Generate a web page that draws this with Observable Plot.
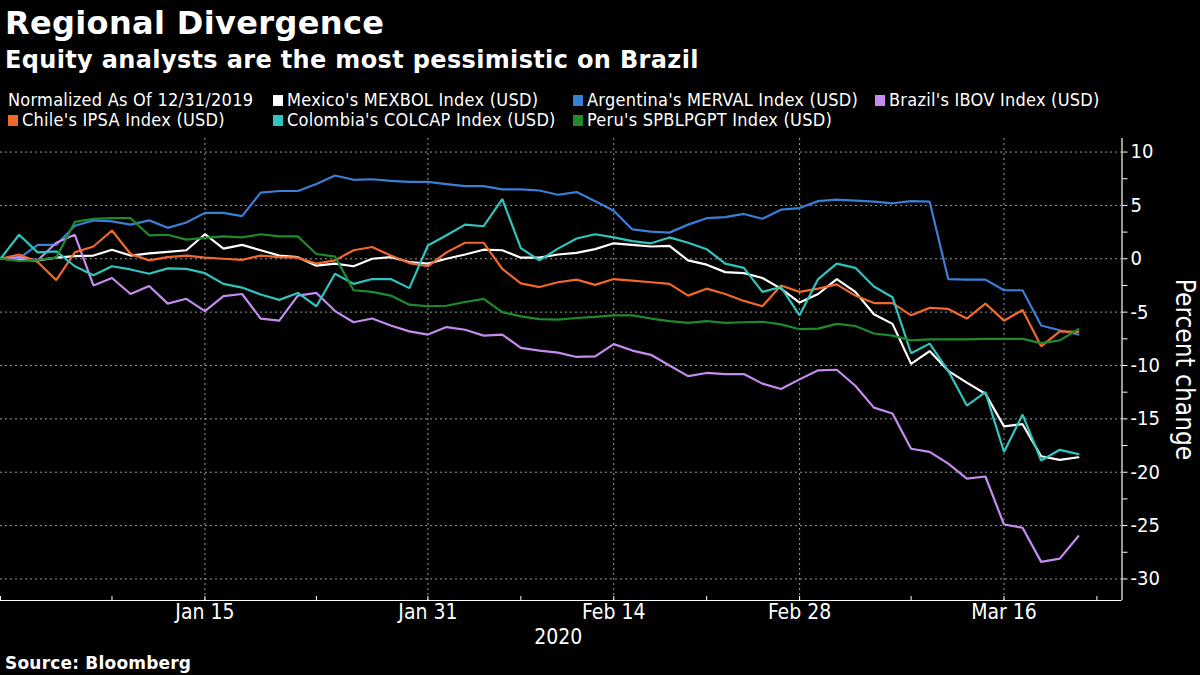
<!DOCTYPE html>
<html>
<head>
<meta charset="utf-8">
<script src="https://cdn.jsdelivr.net/npm/d3@7"></script>
<script src="https://cdn.jsdelivr.net/npm/@observablehq/plot@0.6"></script>
<style>
  html, body { margin: 0; padding: 0; background: #000; }
  #wrap { position: relative; width: 1200px; height: 675px; background: #000; overflow: hidden; color: #fff;
          font-family: "DejaVu Sans Condensed", "DejaVu Sans", sans-serif; font-stretch: condensed; }
  .title { position: absolute; left: 5px; top: 6.5px; font-family: "DejaVu Sans", sans-serif; font-stretch: normal;
           font-weight: bold; font-size: 32px; line-height: 32px; letter-spacing: 0.35px; white-space: nowrap; }
  .subtitle { position: absolute; left: 5px; top: 48px; font-family: "DejaVu Sans", sans-serif; font-stretch: normal;
           font-weight: bold; font-size: 24px; line-height: 24px; letter-spacing: 0.35px; white-space: nowrap; }
  .legend { position: absolute; left: 8px; top: 91px; display: grid;
            grid-template-columns: 265px 300px 302px auto; row-gap: 2px; font-size: 18px; line-height: 18px;
            letter-spacing: 0.25px; }
  .legend .item { white-space: nowrap; display: flex; align-items: center; }
  .legend .sw { display: inline-block; width: 10px; height: 11px; margin-right: 4px; }
  .source { position: absolute; left: 5px; top: 655px; font-family: "DejaVu Sans", sans-serif; font-stretch: normal;
            font-weight: bold; font-size: 17px; line-height: 17px; letter-spacing: 0.2px; }
  #chart { position: absolute; left: 0; top: 130px; }
</style>
</head>
<body>
<div id="wrap">
  <div class="title">Regional Divergence</div>
  <div class="subtitle">Equity analysts are the most pessimistic on Brazil</div>
  <div class="legend" id="legend"></div>
  <div id="chart"></div>
  <div class="source">Source: Bloomberg</div>
</div>
<script>
// ---------------- DATA ----------------
const dates = [
  "2019-12-31","2020-01-01","2020-01-02","2020-01-03",
  "2020-01-06","2020-01-07","2020-01-08","2020-01-09","2020-01-10",
  "2020-01-13","2020-01-14","2020-01-15","2020-01-16","2020-01-17",
  "2020-01-20","2020-01-21","2020-01-22","2020-01-23","2020-01-24",
  "2020-01-27","2020-01-28","2020-01-29","2020-01-30","2020-01-31",
  "2020-02-03","2020-02-04","2020-02-05","2020-02-06","2020-02-07",
  "2020-02-10","2020-02-11","2020-02-12","2020-02-13","2020-02-14",
  "2020-02-17","2020-02-18","2020-02-19","2020-02-20","2020-02-21",
  "2020-02-24","2020-02-25","2020-02-26","2020-02-27","2020-02-28",
  "2020-03-02","2020-03-03","2020-03-04","2020-03-05","2020-03-06",
  "2020-03-09","2020-03-10","2020-03-11","2020-03-12","2020-03-13",
  "2020-03-16","2020-03-17","2020-03-18","2020-03-19","2020-03-20"
];

const seriesNames = [
  "Mexico's MEXBOL Index (USD)",
  "Argentina's MERVAL Index (USD)",
  "Brazil's IBOV Index (USD)",
  "Chile's IPSA Index (USD)",
  "Colombia's COLCAP Index (USD)",
  "Peru's SPBLPGPT Index (USD)"
];
const seriesColors = ["#ffffff", "#3a7fd6", "#c48cee", "#f0682c", "#2fc4be", "#1f8a2c"];

const mexico = [
  0, -0.1, -0.15, 0.1, 0.25, 0.3, 0.85, 0.3, 0.5, 0.65, 0.8, 2.3, 0.95, 1.3, 0.8,
  0.3, 0.15, -0.65, -0.45, -0.7, 0, 0.15, -0.3, -0.45, 0, 0.4, 0.85, 0.8, 0.1, 0.1,
  0.4, 0.55, 0.9, 1.45, 1.3, 1.15, 1.2, -0.15, -0.55, -1.25, -1.35, -1.8, -2.8, -4.1, -3.3,
  -1.9, -3.1, -5.2, -6.1, -9.85, -8.65, -10.5, -11.6, -12.65, -15.7, -15.5, -18.5, -18.85, -18.6
];
const argentina = [
  0, 0.05, 1.3, 1.3, 3.1, 3.6, 3.5, 3.2, 3.6, 2.9, 3.4, 4.3, 4.3, 4.0, 6.2,
  6.35, 6.35, 7.0, 7.8, 7.4, 7.45, 7.3, 7.2, 7.2, 7.0, 6.8, 6.8, 6.5, 6.5, 6.4,
  6.0, 6.25, 5.4, 4.5, 2.75, 2.55, 2.45, 3.2, 3.8, 3.9, 4.2, 3.75, 4.6, 4.75, 5.4,
  5.55, 5.45, 5.35, 5.2, 5.4, 5.35, -1.9, -1.95, -1.95, -2.95, -2.95, -6.25, -6.7, -7.1
];
const brazil = [
  0, 0.15, -0.15, 1.5, 2.25, -2.5, -1.8, -3.3, -2.55, -4.2, -3.75, -4.9, -3.5, -3.3, -5.6,
  -5.8, -3.45, -3.2, -4.9, -5.95, -5.6, -6.25, -6.8, -7.1, -6.4, -6.65, -7.2, -7.1, -8.35, -8.6,
  -8.8, -9.2, -9.15, -8.0, -8.6, -9.0, -10.0, -11.0, -10.7, -10.8, -10.8, -11.7, -12.2, -11.3, -10.45,
  -10.4, -11.9, -13.95, -14.5, -17.8, -18.1, -19.2, -20.6, -20.4, -24.9, -25.2, -28.4, -28.1, -26.0
];
const chile = [
  0, 0.4, -0.3, -2.0, 0.6, 1.15, 2.65, 0.45, -0.15, 0.15, 0.3, 0.1, 0.0, -0.1, 0.3,
  0.15, 0.1, -0.45, -0.15, 0.8, 1.1, 0.3, -0.4, -0.7, 0.6, 1.5, 1.5, -0.95, -2.3, -2.65,
  -2.2, -1.95, -2.45, -1.9, -2.05, -2.2, -2.35, -3.45, -2.8, -3.3, -3.95, -4.45, -2.5, -3.1, -2.8,
  -2.4, -3.45, -4.15, -4.15, -5.3, -4.6, -4.7, -5.6, -4.2, -5.8, -4.8, -8.2, -6.8, -6.85
];
const colombia = [
  0, 2.25, 0.6, 0.7, -0.7, -1.55, -0.7, -1.0, -1.4, -0.9, -0.95, -1.35, -2.35, -2.7, -3.35,
  -3.85, -3.2, -4.45, -1.4, -2.35, -1.9, -1.9, -2.75, 1.25, 2.2, 3.2, 3.05, 5.6, 1.0, -0.15,
  0.95, 1.9, 2.3, 2.0, 1.65, 1.45, 2.0, 1.5, 0.9, -0.45, -0.85, -3.1, -2.65, -5.3, -1.9,
  -0.45, -0.85, -2.6, -3.6, -8.85, -7.95, -10.5, -13.75, -12.5, -18.1, -14.6, -18.9, -17.9, -18.3
];
const peru = [
  0, -0.2, -0.1, 0.1, 3.45, 3.75, 3.8, 3.8, 2.2, 2.25, 1.8, 1.95, 2.1, 2.0, 2.3,
  2.1, 2.1, 0.45, 0.2, -2.95, -3.1, -3.45, -4.3, -4.45, -4.4, -4.05, -3.75, -5.0, -5.4, -5.65,
  -5.7, -5.55, -5.45, -5.3, -5.3, -5.6, -5.85, -6.0, -5.85, -6.0, -5.95, -5.9, -6.15, -6.6, -6.55,
  -6.1, -6.3, -7.0, -7.2, -7.65, -7.55, -7.55, -7.55, -7.5, -7.5, -7.5, -7.9, -7.65, -6.6
];
const seriesValues = [mexico, argentina, brazil, chile, colombia, peru];

const legendNote = "Normalized As Of 12/31/2019";
const majorTickDates = ["2020-01-15", "2020-01-31", "2020-02-14", "2020-02-28", "2020-03-16"];
const majorTickLabels = ["Jan 15", "Jan 31", "Feb 14", "Feb 28", "Mar 16"];
const minorTickDates = ["2019-12-31", "2020-01-08", "2020-01-23", "2020-02-07", "2020-02-21", "2020-03-09", "2020-03-23"];
const yearLabel = "2020";
const yLabeledTicks = [10, 5, 0, -5, -10, -15, -20, -25, -30];
const yMinorTicks = [7.5, 2.5, -2.5, -7.5, -12.5, -17.5, -22.5, -27.5];
const yAxisLabel = "Percent change";

// ---------------- BUILD ----------------
// Bloomberg-style weekday axis: x = number of weekdays since the first date
const start = new Date(dates[0] + "T00:00:00Z");
function wx(s) {
  const d = new Date(s + "T00:00:00Z");
  return d3.utcDays(start, d).filter(t => t.getUTCDay() % 6 !== 0).length;
}

const rows = [];
seriesNames.forEach((name, k) => {
  seriesValues[k].forEach((v, i) => rows.push({series: name, x: wx(dates[i]), y: v}));
});

const majorX = majorTickDates.map(wx);
const minorX = minorTickDates.map(wx);
const labelByX = new Map(majorX.map((x, i) => [x, majorTickLabels[i]]));
const xMax = 60.35, yMin = -32.02, yMax = 11.27;

// Legend
const legend = document.getElementById("legend");
const items = [
  {text: legendNote},
  {text: seriesNames[0], color: seriesColors[0]},
  {text: seriesNames[1], color: seriesColors[1]},
  {text: seriesNames[2], color: seriesColors[2]},
  {text: seriesNames[3], color: seriesColors[3]},
  {text: seriesNames[4], color: seriesColors[4]},
  {text: seriesNames[5], color: seriesColors[5]}
];
for (const it of items) {
  const div = document.createElement("div");
  div.className = "item";
  if (it.color) {
    const sw = document.createElement("span");
    sw.className = "sw";
    sw.style.background = it.color;
    div.appendChild(sw);
  }
  div.appendChild(document.createTextNode(it.text));
  legend.appendChild(div);
}

const font = '"DejaVu Sans Condensed", "DejaVu Sans", sans-serif';
const chart = Plot.plot({
  width: 1200,
  height: 520,
  marginLeft: 0,
  marginRight: 78.5,
  marginTop: 8,
  marginBottom: 50,
  style: {background: "transparent", color: "#fff", fontFamily: font, fontSize: "20px", fontStretch: "condensed"},
  x: {type: "linear", domain: [0, xMax], axis: null},
  y: {domain: [yMin, yMax], axis: null},
  color: {domain: seriesNames, range: seriesColors},
  marks: [
    Plot.ruleY(yLabeledTicks, {stroke: "#9a9a9a", strokeWidth: 1, strokeDasharray: "2,3"}),
    Plot.ruleX(majorX, {stroke: "#9a9a9a", strokeWidth: 1, strokeDasharray: "2,3"}),
    Plot.line(rows, {x: "x", y: "y", z: "series", stroke: "series", strokeWidth: 2.2, strokeLinejoin: "miter"}),
    Plot.ruleY([yMin], {stroke: "#fff", strokeWidth: 1.2}),
    Plot.ruleX([xMax], {stroke: "#fff", strokeWidth: 1.2}),
    Plot.axisX({anchor: "bottom", ticks: majorX.concat(minorX), tickSize: 5, tickPadding: 3, label: null,
      tickFormat: d => labelByX.get(d) || "", stroke: "#fff", fill: "#fff", fontSize: 21,
      letterSpacing: 0.8, dy: -4}),
    Plot.axisY({anchor: "right", ticks: yLabeledTicks.concat(yMinorTicks), tickSize: 5, tickPadding: 3.5,
      tickFormat: d => (d % 5 === 0 ? String(d) : ""), stroke: "#fff", fill: "#fff", fontSize: 20, label: null}),
    Plot.text([yearLabel], {frameAnchor: "bottom", dy: 43, dx: -3, fill: "#fff", fontSize: 21, letterSpacing: 0.5}),
    Plot.text([yAxisLabel], {frameAnchor: "right", textAnchor: "middle", rotate: 90, dx: 62, fill: "#fff", fontSize: 26})
  ]
});
document.getElementById("chart").appendChild(chart);
</script>
</body>
</html>
